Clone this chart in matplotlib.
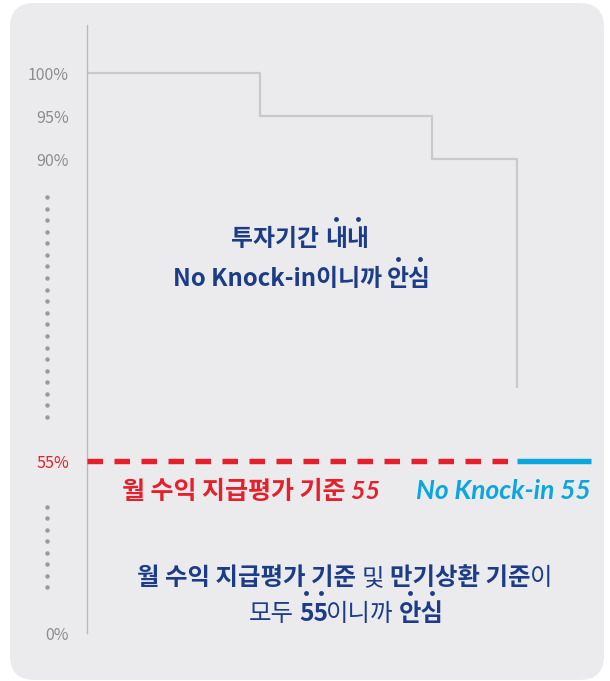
import numpy as np
import matplotlib
matplotlib.use("Agg")
import matplotlib.pyplot as plt
from matplotlib.patches import FancyBboxPatch
from matplotlib.lines import Line2D

# ---------------- data ----------------
step_x = [0, 1, 2, 2.49]            # evaluation periods (relative)
step_y = [100, 95, 90, 63.5]        # redemption barrier levels (%)
barrier_level = 55                  # monthly coupon / knock-in level (%)
red_x = [0, 2.49]
blue_x = [2.49, 2.92]
ytick_vals = [0, 55, 90, 95, 100]
ytick_labels = ["0%", "55%", "90%", "95%", "100%"]

txt_top1 = "투자기간 내내"
txt_top2 = "No Knock-in이니까 안심"
txt_red = "월 수익 지급평가 기준 55"
txt_blue = "No Knock-in 55"

# ---------------- style ----------------
W, H = 610, 681
NAVY = "#1c3d86"
RED = "#e5202a"
BLUE = "#0aa6df"
GRAY_TXT = "#8d8d8d"
PANEL = "#ebebee"
KR = "Noto Sans CJK KR"

fig = plt.figure(figsize=(W / 100, H / 100), dpi=100)
fig.patch.set_facecolor("white")

def fx(px):
    return px / W

def fy(py):
    return 1 - py / H

# rounded panel
panel = FancyBboxPatch((fx(10), fy(680)), fx(594), (677) / H,
                       boxstyle="round,pad=0,rounding_size=0.04",
                       transform=fig.transFigure, facecolor=PANEL,
                       edgecolor="none", zorder=-5, mutation_aspect=W / H)
fig.patches.append(panel)

# axes
ax = fig.add_axes([fx(87), fy(633), 517.5 / W, 608 / H])
ax.patch.set_visible(False)
ax.set_zorder(2)

VB = [0, 55, 90, 105.6]
PB = [0, 172, 474, 608]
fwd = lambda v: np.interp(v, VB, PB)
inv = lambda p: np.interp(p, PB, VB)
ax.set_yscale("function", functions=(fwd, inv))
ax.set_ylim(0, 105.6)
ax.set_xlim(0, 3.0)

for s in ["top", "right", "bottom"]:
    ax.spines[s].set_visible(False)
ax.spines["left"].set_color("#b9b9b9")
ax.spines["left"].set_linewidth(1.0)
ax.set_xticks([])
ax.set_yticks(ytick_vals)
ax.set_yticklabels(ytick_labels, fontfamily=KR, fontsize=11.5, color=GRAY_TXT)
ax.tick_params(axis="y", length=0, pad=13)
ax.get_yticklabels()[1].set_color(RED)

# step line
ax.plot(step_x, step_y, drawstyle="steps-post", color="#c9c9cb", lw=1.6,
        solid_capstyle="butt", zorder=2)
# barrier lines
ax.plot(red_x, [barrier_level] * 2, color=RED, lw=3.9,
        dashes=(15.5 * 0.72 / 3.9, 11.5 * 0.72 / 3.9), dash_capstyle="butt",
        zorder=3)
ax.plot(blue_x, [barrier_level] * 2, color=BLUE, lw=3.9,
        solid_capstyle="butt", zorder=3)

# axis-break dots
for ys in (np.linspace(197, 417, 20), np.linspace(507, 587, 8)):
    fig.add_artist(Line2D([fx(47)] * len(ys), [fy(y) for y in ys],
                          transform=fig.transFigure, ls="none", marker="o",
                          ms=3.2, mfc="#9a9a9c", mec="none"))

renderer = fig.canvas.get_renderer()

def width(s, **kw):
    t = fig.text(0, 0, s, **kw)
    w = t.get_window_extent(renderer).width
    t.remove()
    return w

def rich_line(cx, base, segs, size, family=KR):
    # segs: (text, weight, dot indices, extra gap after)
    common = dict(fontsize=size, fontfamily=family)
    sp = width("가 가", fontweight="bold", **common) - width("가가", fontweight="bold", **common)
    items = []
    total = 0
    for text, weight, dots, adj in segs:
        if text == " ":
            items.append((None, sp + adj, weight, dots))
            total += sp + adj
            continue
        w = width(text, fontweight=weight, **common) + adj
        items.append((text, w, weight, dots))
        total += w
    x = cx - total / 2
    em = size * 100 / 72
    for text, w, weight, dots in items:
        if text is not None:
            fig.text(fx(x), fy(base), text, ha="left", va="baseline",
                     color=NAVY, fontweight=weight, **common)
            for i in dots:
                w_full = width(text[:i + 1], fontweight=weight, **common)
                w_c = width(text[i], fontweight=weight, **common)
                dx = x + w_full - w_c / 2
                fig.add_artist(Line2D([fx(dx)], [fy(base - 1.15 * em)],
                                      transform=fig.transFigure, ls="none",
                                      marker="o", ms=3.5, mfc=NAVY, mec="none"))
        x += w

TOP_FS = 17.2
BOT_FS = 17.6
rich_line(300, 246, [("투자기간", "bold", [], 0), (" ", "bold", [], 0),
                     ("내내", "bold", [0, 1], 0)], TOP_FS)
rich_line(302, 286, [("No Knock-in이니까", "bold", [], 0), (" ", "bold", [], 0),
                     ("안심", "bold", [0, 1], 0)], TOP_FS)
rich_line(345, 585, [("월 수익 지급평가 기준", "bold", [], 0), (" ", "bold", [], 0),
                     ("및", "normal", [], 0), (" ", "bold", [], 0),
                     ("만기상환 기준", "bold", [], 0), ("이", "normal", [], 0)], BOT_FS)
rich_line(346, 621, [("모두", "normal", [], 0), (" ", "bold", [], 0),
                     ("55", "bold", [0, 1], -2.5), ("이니까", "normal", [], 0),
                     (" ", "bold", [], 0), ("안심", "bold", [0, 1], 0)], BOT_FS)

# barrier captions
fig.text(fx(122), fy(499), txt_red, ha="left", va="baseline", color=RED,
         fontsize=18, fontweight="bold", style="italic",
         family=["Lato", KR])
fig.text(fx(591), fy(499), txt_blue, ha="right", va="baseline", color=BLUE,
         fontsize=19, fontweight="bold", style="italic",
         family=["Lato", KR])

fig.savefig("out.png", dpi=100, facecolor="white")
